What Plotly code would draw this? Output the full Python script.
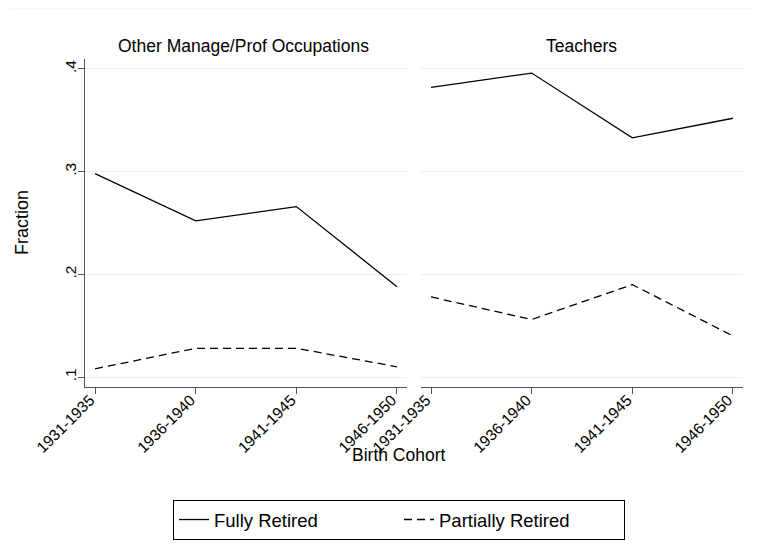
import plotly.graph_objects as go
from plotly.subplots import make_subplots

cohorts = ["1931-1935", "1936-1940", "1941-1945", "1946-1950"]
panels = ["Other Manage/Prof Occupations", "Teachers"]
other_fully = [0.298, 0.252, 0.266, 0.188]
other_partial = [0.108, 0.128, 0.128, 0.110]
teach_fully = [0.382, 0.396, 0.333, 0.352]
teach_partial = [0.178, 0.156, 0.190, 0.140]
yticks = [0.1, 0.2, 0.3, 0.4]
ytick_text = [".1", ".2", ".3", ".4"]

FONT = "Arial, Liberation Sans, sans-serif"
fig = make_subplots(rows=1, cols=2, horizontal_spacing=0.0212)

series = [
    (other_fully, other_partial, 1),
    (teach_fully, teach_partial, 2),
]
for full, part, col in series:
    fig.add_trace(go.Scatter(x=cohorts, y=full, mode="lines", name="Fully Retired",
                             line=dict(color="black", width=1.3),
                             showlegend=(col == 1)), row=1, col=col)
    fig.add_trace(go.Scatter(x=cohorts, y=part, mode="lines", name="Partially Retired",
                             line=dict(color="black", width=1.3, dash="8px,5px"),
                             showlegend=(col == 1)), row=1, col=col)

axis_common = dict(range=[-0.1, 3.1], showgrid=False, ticks="outside", ticklen=6,
                   tickcolor="#555", showline=True, linecolor="#555", linewidth=1.2,
                   tickangle=-45, tickfont=dict(family=FONT, size=15.5, color="black"),
                   ticklabelstandoff=-9, ticklabelshift=-5,
                   zeroline=False, automargin=False)
fig.update_xaxes(**axis_common)
fig.update_yaxes(range=[0.0903, 0.4097], tickvals=yticks, ticktext=ytick_text,
                 showgrid=True, gridcolor="#e8eff1", gridwidth=1, zeroline=False,
                 automargin=False)
fig.update_yaxes(row=1, col=1, ticks="outside", ticklen=6, tickcolor="#555",
                 showline=True, linecolor="#555", linewidth=1.2, tickangle=-90,
                 ticklabelstandoff=-4,
                 tickfont=dict(family=FONT, size=15.5, color="black"))
fig.update_yaxes(row=1, col=2, showticklabels=False, ticks="", showline=False)

annotations = [
    dict(text=panels[0], x=0.2416, y=1.0396, xref="paper", yref="paper",
         showarrow=False, xanchor="center", yanchor="middle",
         font=dict(family=FONT, size=17.5, color="black")),
    dict(text=panels[1], x=0.7538, y=1.0396, xref="paper", yref="paper",
         showarrow=False, xanchor="center", yanchor="middle",
         font=dict(family=FONT, size=17.5, color="black")),
    dict(text="Fraction", x=-0.0957, y=0.5, xref="paper", yref="paper",
         showarrow=False, textangle=-90, xanchor="center", yanchor="middle",
         font=dict(family=FONT, size=18, color="black")),
    dict(text="Birth Cohort", x=0.4772, y=-0.207, xref="paper", yref="paper",
         showarrow=False, xanchor="center", yanchor="middle",
         font=dict(family=FONT, size=17.5, color="black")),
]

fig.update_layout(
    width=751, height=550,
    margin=dict(l=77, r=16, t=51, b=171),
    paper_bgcolor="white", plot_bgcolor="white",
    annotations=annotations,
    legend=dict(orientation="h", x=0.4772, xanchor="center", y=-0.3445, yanchor="top",
                bordercolor="black", borderwidth=1,
                font=dict(family=FONT, size=18.5, color="black"),
                entrywidth=180, entrywidthmode="pixels"),
    shapes=[dict(type="line", xref="paper", yref="paper", x0=-0.114, x1=1.024,
                 y0=1.1555, y1=1.1555, line=dict(color="#e8eff1", width=1))],
)

fig.write_html("out.html")
